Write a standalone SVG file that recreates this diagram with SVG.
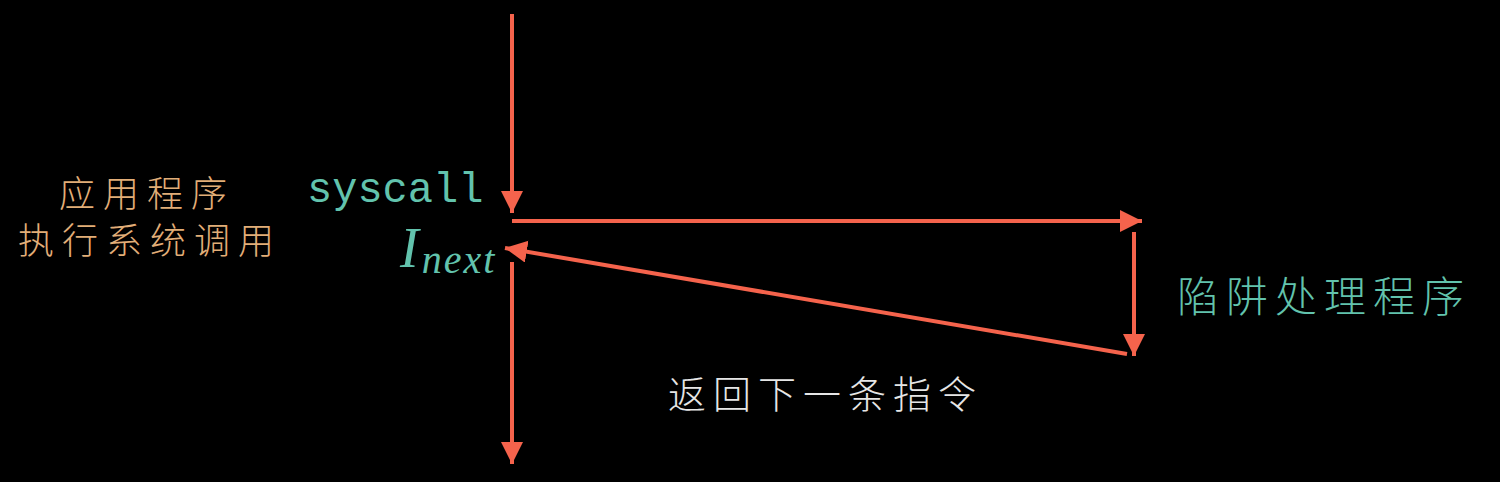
<svg xmlns="http://www.w3.org/2000/svg" width="1500" height="482" viewBox="0 0 1500 482">
<style>
.ln{stroke:#f5634c;stroke-width:4;fill:none}
.cjk{font-family:"Noto Sans CJK SC",sans-serif;font-weight:300}
.org{fill:#e2ae78}
.teal{fill:#62c3ad}
.wht{fill:#e6e6e6}
</style>
<defs>
<marker id="ah" markerUnits="userSpaceOnUse" markerWidth="24" markerHeight="24" refX="22" refY="11" orient="auto">
<path d="M0,0 L22,11 L0,22 Z" fill="#f5634c"/>
</marker>
</defs>
<rect width="1500" height="482" fill="#000"/>
<g id="connectors">
<line class="ln" x1="512" y1="14" x2="512" y2="213" marker-end="url(#ah)"/>
<line class="ln" x1="512" y1="221" x2="1142" y2="221" marker-end="url(#ah)"/>
<line class="ln" x1="1134" y1="232" x2="1134" y2="356" marker-end="url(#ah)"/>
<line class="ln" x1="1127" y1="354" x2="505" y2="248" marker-end="url(#ah)"/>
<line class="ln" x1="512" y1="262" x2="512" y2="464" marker-end="url(#ah)"/>
</g>
<g id="app">
<text class="cjk org" x="147" y="207" font-size="36" text-anchor="middle" letter-spacing="8">应用程序</text>
<text class="cjk org" x="150" y="254" font-size="36" text-anchor="middle" letter-spacing="8">执行系统调用</text>
</g>
<g id="syscall">
<text class="teal" x="307" y="202" font-family="Liberation Mono, monospace" font-size="42">syscall</text>
</g>
<g id="inext">
<text class="teal" x="400" y="267" font-family="Liberation Serif, serif" font-style="italic" font-size="56">I<tspan font-size="40" dy="6" dx="3" letter-spacing="2">next</tspan></text>
</g>
<g id="handler">
<text class="cjk teal" x="1177" y="312" font-size="42" letter-spacing="7">陷阱处理程序</text>
</g>
<g id="return">
<text class="cjk wht" x="668" y="408" font-size="38" letter-spacing="7">返回下一条指令</text>
</g>
</svg>
